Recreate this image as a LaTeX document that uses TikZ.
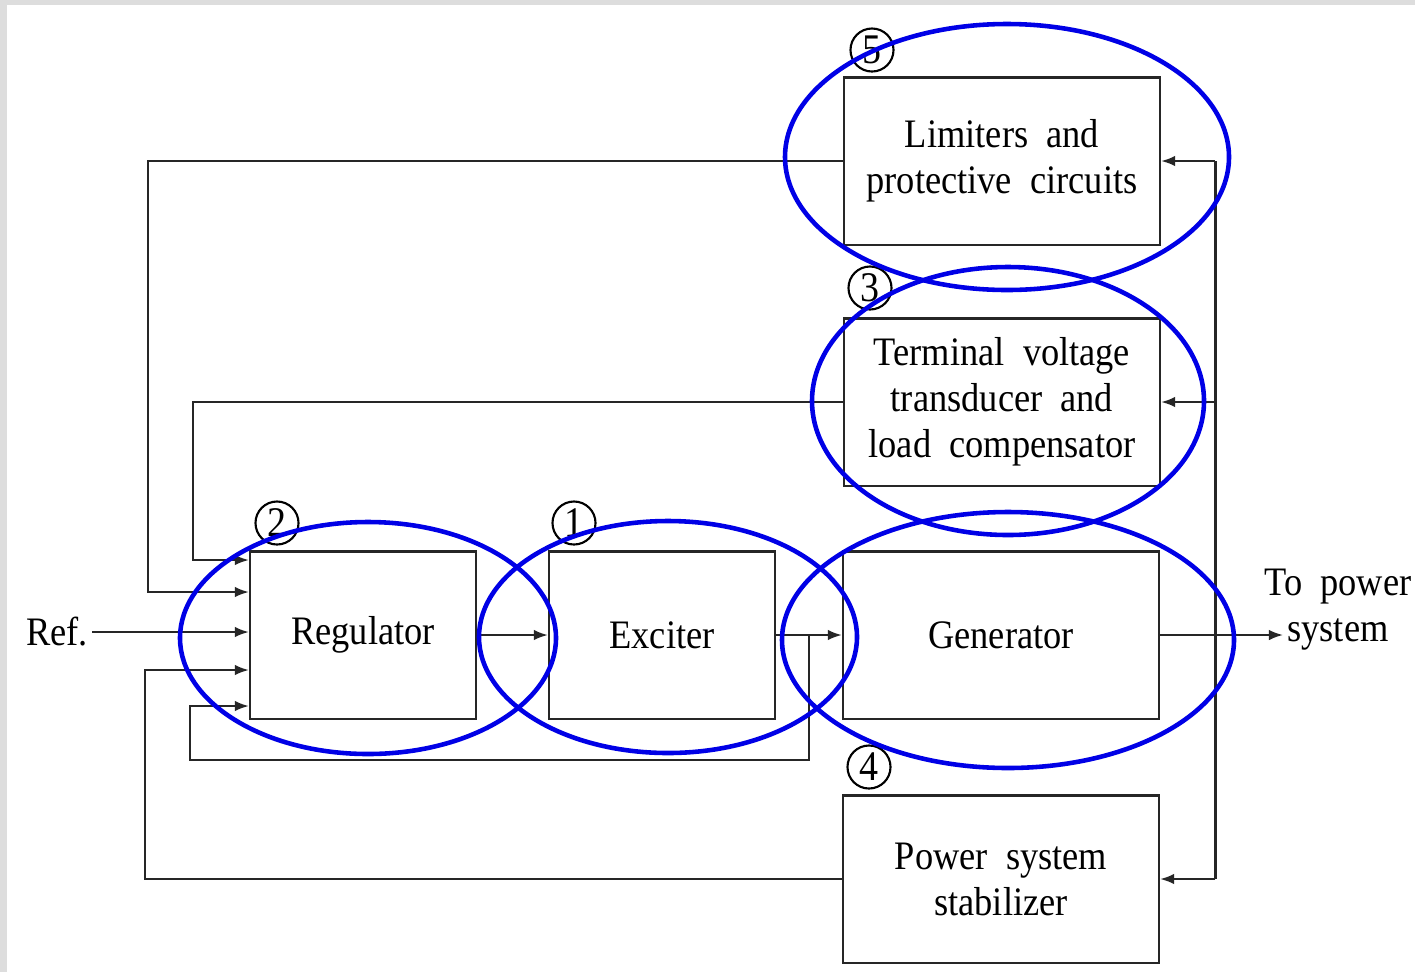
\documentclass[tikz,border=0pt]{standalone}
\usepackage{fontspec}
\setmainfont{Liberation Serif}[FakeStretch=0.9,WordSpace=2]
\usetikzlibrary{calc,arrows.meta}
\definecolor{bordergray}{RGB}{221,221,221}
\definecolor{ringblue}{RGB}{0,0,230}
\newcommand{\boxfont}{\fontsize{11.5}{13.1}\selectfont}

\begin{document}
\begin{tikzpicture}[x=0.01cm, y=-0.01cm,
    box/.style={draw=black!85, line width=0.6pt, minimum width=3.16cm, minimum height=1.67cm, align=center, inner sep=0pt, font=\boxfont},
    smallbox/.style={box, minimum width=2.26cm},
    wire/.style={draw=black!85, line width=0.6pt},
    arr/.style={wire, -{Latex[length=4pt,width=3pt]}},
    tag/.style={circle, draw, line width=0.6pt, minimum size=0.43cm, inner sep=0pt, font=\fontsize{12}{12}\selectfont},
    ring/.style={draw=ringblue, line width=1.3pt}]
		%%%%% FRAME %%%%%
		\useasboundingbox (0,0) rectangle (1415,972);
		\fill[bordergray] (0,0) rectangle (1415,972);
		\fill[white] (7,5) rectangle (1415,972);
		
		%%%%% BLOCKS %%%%%
		\node[box] (lim) at (1002,161) {Limiters and\\protective circuits};
		\node[box] (tvt) at (1002,402) {Terminal voltage\\transducer and\\load compensator};
		\node[smallbox] (reg) at (363,635) {Regulator};
		\node[smallbox] (exc) at (662,635) {Exciter};
		\node[box] (gen) at (1001,635) {Generator};
		\node[box] (pss) at (1001,879) {Power system\\stabilizer};
		
		\node[font=\boxfont, anchor=east, inner sep=1pt] (ref) at (92,632) {Ref.};
		\node[font=\boxfont, align=center] (sys) at (1338,610) {To power\\system};
		\coordinate (out) at (1283,635);
		
		%%%%% NUMBERS %%%%%
		\node[tag] (n5) at (872,50) {5};
		\node[tag] (n3) at (870,288) {3};
		\node[tag] (n2) at (277,523) {2};
		\node[tag] (n1) at (574,523) {1};
		\node[tag] (n4) at (869,767) {4};
		
		%%%%% FORWARD PATH %%%%%
		\coordinate (tapa) at ($(exc.east)!0.5!(gen.west)$);
		\coordinate (tapb) at ($(gen.east)!0.45!(out)$);
		\draw[arr] (ref.east) -- (reg.west |- ref.east);
		\draw[arr] (reg.east) -- (exc.west);
		\draw[arr] (exc.east) -- (gen.west);
		\draw[arr] (gen.east) -- (out);
		
		%%%%% FEEDBACK %%%%%
		\draw[wire] (tapb |- lim.east) -- (tapb |- pss.east);
		\draw[arr] (tapb |- lim.east) -- (lim.east);
		\draw[arr] (tapb |- tvt.east) -- (tvt.east);
		\draw[arr] (tapb |- pss.east) -- (pss.east);
		
		\draw[arr] (lim.west) -| (148,592) -- (reg.west |- 148,592);
		\draw[arr] (tvt.west) -| (193,560) -- (reg.west |- 193,560);
		\draw[arr] (pss.west) -| (145,670) -- (reg.west |- 145,670);
		\draw[arr] (tapa) |- (190,760) |- (reg.west |- 190,706);
		
		%%%%% MARKINGS %%%%%
		\draw[ring] (1007,157) ellipse [x radius=222, y radius=133];
		\draw[ring] (1008,401) ellipse [x radius=196, y radius=134];
		\draw[ring] (368,638) ellipse [x radius=188, y radius=116];
		\draw[ring] (668,637) ellipse [x radius=189, y radius=116];
		\draw[ring] (1008,640) ellipse [x radius=226, y radius=128];
		
		%%%%% END %%%%%
	\end{tikzpicture}
\end{document}
